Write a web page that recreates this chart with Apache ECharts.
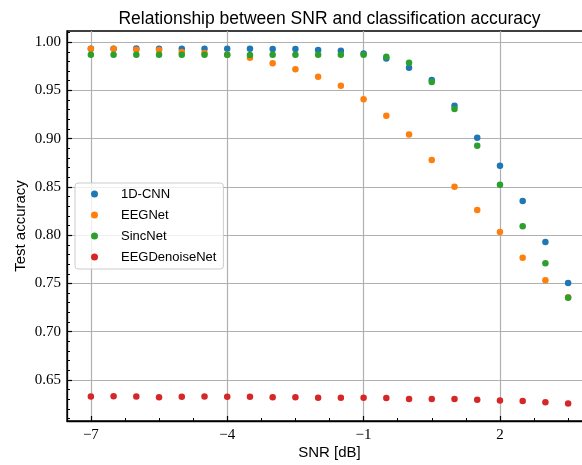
<!DOCTYPE html>
<html>
<head>
<meta charset="utf-8">
<script src="https://cdn.jsdelivr.net/npm/echarts@6/dist/echarts.min.js"></script>
<style>
  html, body { margin: 0; padding: 0; background: #fff; }
  #chart { width: 582px; height: 465px; }
</style>
</head>
<body>
<div id="chart"></div>
<script>
// SNR levels in dB
const snr = [-7, -6.5, -6, -5.5, -5, -4.5, -4, -3.5, -3, -2.5, -2, -1.5, -1, -0.5, 0, 0.5, 1, 1.5, 2, 2.5, 3, 3.5];

// Test accuracy per model
const cnn1d = [0.9931, 0.9931, 0.9935, 0.9931, 0.9931, 0.9931, 0.9931, 0.9931, 0.9928, 0.9928, 0.9917, 0.9910, 0.9883, 0.9831, 0.9734, 0.9607, 0.9340, 0.9010, 0.8720, 0.8354, 0.7930, 0.7505];
const eegnet = [0.9931, 0.9931, 0.9920, 0.9917, 0.9897, 0.9886, 0.9870, 0.9838, 0.9780, 0.9720, 0.9641, 0.9548, 0.9407, 0.9237, 0.9044, 0.8778, 0.8502, 0.8261, 0.8033, 0.7767, 0.7533, 0.7357];
const sincnet = [0.9869, 0.9869, 0.9869, 0.9869, 0.9869, 0.9869, 0.9869, 0.9866, 0.9869, 0.9869, 0.9869, 0.9869, 0.9869, 0.9848, 0.9786, 0.9586, 0.9306, 0.8927, 0.8523, 0.8092, 0.7709, 0.7353];
const denoise = [0.6328, 0.6332, 0.6328, 0.6322, 0.6325, 0.6328, 0.6325, 0.6325, 0.6322, 0.6322, 0.6315, 0.6315, 0.6315, 0.6312, 0.6304, 0.6304, 0.6304, 0.6294, 0.6287, 0.6281, 0.6270, 0.6256];

const seriesNames = ['1D-CNN', 'EEGNet', 'SincNet', 'EEGDenoiseNet'];
const seriesValues = [cnn1d, eegnet, sincnet, denoise];
const colors = ['#1f77b4', '#ff7f0e', '#2ca02c', '#d62728'];

// Tick positions
const xMajorTicks = [-7, -4, -1, 2];
const xMinorTicks = [-6.25, -5.5, -4.75, -3.25, -2.5, -1.75, -0.25, 0.5, 1.25, 2.75, 3.5];
const yMajorTicks = [0.65, 0.70, 0.75, 0.80, 0.85, 0.90, 0.95, 1.00];
const yMinorTicks = [0.61, 0.62, 0.63, 0.64, 0.66, 0.67, 0.68, 0.69, 0.71, 0.72, 0.73, 0.74,
  0.76, 0.77, 0.78, 0.79, 0.81, 0.82, 0.83, 0.84, 0.86, 0.87, 0.88, 0.89,
  0.91, 0.92, 0.93, 0.94, 0.96, 0.97, 0.98, 0.99, 1.01];

const xRange = [-7.525, 4.025];
const yRange = [0.6075, 1.0115];

const serifFont = '"Liberation Serif", "DejaVu Serif", serif';
const sansFont = '"Liberation Sans", Arial, sans-serif';
const fmtMinus = v => String(v).replace('-', '\u2212');

const chart = echarts.init(document.getElementById('chart'), null, { renderer: 'canvas' });

const option = {
  animation: false,
  backgroundColor: '#ffffff',
  title: {
    text: 'Relationship between SNR and classification accuracy',
    left: 324.5,
    textAlign: 'center',
    top: 5,
    textStyle: { fontFamily: sansFont, fontSize: 17.5, fontWeight: 'normal', color: '#000' }
  },
  grid: {
    left: 67, top: 31, width: 525, height: 390,
    outerBoundsMode: 'none',
    containLabel: false,
    show: true, borderColor: '#000', borderWidth: 1.3, backgroundColor: 'transparent'
  },
  legend: {
    orient: 'vertical',
    left: 75, top: 183,
    data: seriesNames,
    icon: 'circle',
    itemWidth: 7, itemHeight: 7,
    itemGap: 7,
    padding: [4, 7, 5, 16],
    backgroundColor: 'rgba(255,255,255,0.8)',
    borderColor: '#cccccc', borderWidth: 1, borderRadius: 3,
    textStyle: { fontFamily: sansFont, fontSize: 13, color: '#000', lineHeight: 14, padding: [0, 0, 0, 18] }
  },
  xAxis: [
    {
      type: 'value', min: xRange[0], max: xRange[1], position: 'bottom',
      name: 'SNR [dB]', nameLocation: 'middle', nameGap: 24, nameMoveOverlap: false,
      nameTextStyle: { fontFamily: sansFont, fontSize: 15, color: '#000' },
      axisLine: { show: true, onZero: false, lineStyle: { color: '#000', width: 1.3 } },
      axisTick: { show: true, inside: true, length: 5, customValues: xMajorTicks, lineStyle: { color: '#000', width: 1.2 } },
      axisLabel: { customValues: xMajorTicks, formatter: fmtMinus, margin: 7, fontFamily: serifFont, fontSize: 15, color: '#000' },
      splitLine: { show: true, lineStyle: { color: '#b0b0b0', width: 1.2 } }
    },
    {
      type: 'value', min: xRange[0], max: xRange[1], position: 'bottom',
      axisLine: { show: false, onZero: false },
      axisTick: { show: true, inside: true, length: 3, customValues: xMinorTicks, lineStyle: { color: '#000', width: 1 } },
      axisLabel: { show: false },
      splitLine: { show: false }
    }
  ],
  yAxis: [
    {
      type: 'value', min: yRange[0], max: yRange[1], position: 'left',
      name: 'Test accuracy', nameLocation: 'middle', nameGap: 39, nameMoveOverlap: false,
      nameTextStyle: { fontFamily: sansFont, fontSize: 15, color: '#000' },
      axisLine: { show: true, onZero: false, lineStyle: { color: '#000', width: 1.3 } },
      axisTick: { show: true, inside: true, length: 5, customValues: yMajorTicks, lineStyle: { color: '#000', width: 1.2 } },
      axisLabel: { customValues: yMajorTicks, formatter: v => v.toFixed(2), margin: 6, fontFamily: serifFont, fontSize: 15, color: '#000' },
      splitLine: { show: true, lineStyle: { color: '#b0b0b0', width: 1.2 } }
    },
    {
      type: 'value', min: yRange[0], max: yRange[1], position: 'left',
      axisLine: { show: false, onZero: false },
      axisTick: { show: true, inside: true, length: 3, customValues: yMinorTicks, lineStyle: { color: '#000', width: 1 } },
      axisLabel: { show: false },
      splitLine: { show: false }
    }
  ],
  series: seriesNames.map((name, i) => ({
    name: name,
    type: 'scatter',
    xAxisIndex: 0,
    yAxisIndex: 0,
    symbol: 'circle',
    symbolSize: 6.5,
    itemStyle: { color: colors[i], opacity: 1 },
    data: snr.map((x, j) => [x, seriesValues[i][j]])
  }))
};

chart.setOption(option);
</script>
</body>
</html>
